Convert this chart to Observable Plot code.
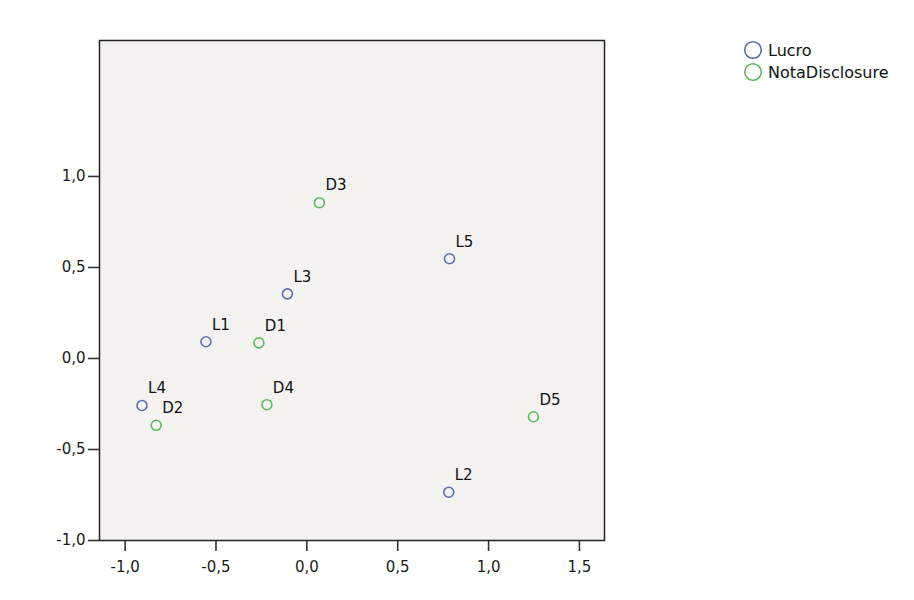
<!DOCTYPE html>
<html>
<head>
<meta charset="utf-8">
<script src="https://cdn.jsdelivr.net/npm/d3@7"></script>
<script src="https://cdn.jsdelivr.net/npm/@observablehq/plot@0.6"></script>
<style>
  html, body { margin: 0; padding: 0; background: #ffffff; }
  #wrap { position: relative; width: 914px; height: 600px; font-family: "DejaVu Sans", sans-serif; }
  #legend { position: absolute; left: 742px; top: 39px; font-size: 16px; color: #111; }
  .row { display: flex; align-items: center; height: 22px; }
  .row svg { display: block; margin-right: 4px; }
</style>
</head>
<body>
<div id="wrap">
  <div id="chart"></div>
  <div id="legend"></div>
</div>
<script>
// Data
const labels  = ["L1", "L2", "L3", "L4", "L5", "D1", "D2", "D3", "D4", "D5"];
const series  = ["Lucro", "Lucro", "Lucro", "Lucro", "Lucro",
                 "NotaDisclosure", "NotaDisclosure", "NotaDisclosure", "NotaDisclosure", "NotaDisclosure"];
const xValues = [-0.555, 0.781, -0.107, -0.907, 0.785, -0.264, -0.829, 0.069, -0.220, 1.247];
const yValues = [0.092, -0.735, 0.355, -0.258, 0.548, 0.086, -0.367, 0.856, -0.254, -0.320];
const seriesNames  = ["Lucro", "NotaDisclosure"];
const seriesColors = ["#5b6db4", "#5fba5f"];
const xTicks = [-1.0, -0.5, 0.0, 0.5, 1.0, 1.5];
const yTicks = [-1.0, -0.5, 0.0, 0.5, 1.0];

const data = labels.map((l, i) => ({label: l, series: series[i], x: xValues[i], y: yValues[i]}));
const fmt = d => d.toFixed(1).replace(".", ",");

const chart = Plot.plot({
  width: 640,
  height: 600,
  marginLeft: 99,
  marginRight: 36,
  marginTop: 40,
  marginBottom: 60,
  style: {fontFamily: "DejaVu Sans, sans-serif", fontSize: "15px", background: "transparent"},
  x: {domain: [-1.141, 1.638], ticks: xTicks, tickFormat: fmt},
  y: {domain: [-1.0, 1.747], ticks: yTicks, tickFormat: fmt},
  color: {domain: seriesNames, range: seriesColors},
  marks: [
    Plot.frame({fill: "#f4f3f2", stroke: null}),
    Plot.axisX({ticks: xTicks, tickFormat: fmt, tickSize: 11, tickPadding: 10, strokeWidth: 1.6, stroke: "#333", color: "#1a1a1a", fontSize: 15, label: null}),
    Plot.axisY({ticks: yTicks, tickFormat: fmt, tickSize: 11, tickPadding: 3, strokeWidth: 1.6, stroke: "#333", color: "#1a1a1a", fontSize: 15, label: null}),
    Plot.dot(data, {x: "x", y: "y", stroke: "series", r: 5, strokeWidth: 1.6, fill: "none"}),
    Plot.text(data, {x: "x", y: "y", text: "label", textAnchor: "start", dx: 6, dy: -17, fill: "#111", fontSize: 15}),
    Plot.frame({stroke: "#222", strokeWidth: 1.5})
  ]
});
document.getElementById("chart").appendChild(chart);

const legend = document.getElementById("legend");
seriesNames.forEach((name, i) => {
  const row = document.createElement("div");
  row.className = "row";
  row.innerHTML = `<svg width="22" height="22"><circle cx="11" cy="11" r="8.3" fill="none" stroke="${seriesColors[i]}" stroke-width="1.6"></circle></svg><span>${name}</span>`;
  legend.appendChild(row);
});
</script>
</body>
</html>
